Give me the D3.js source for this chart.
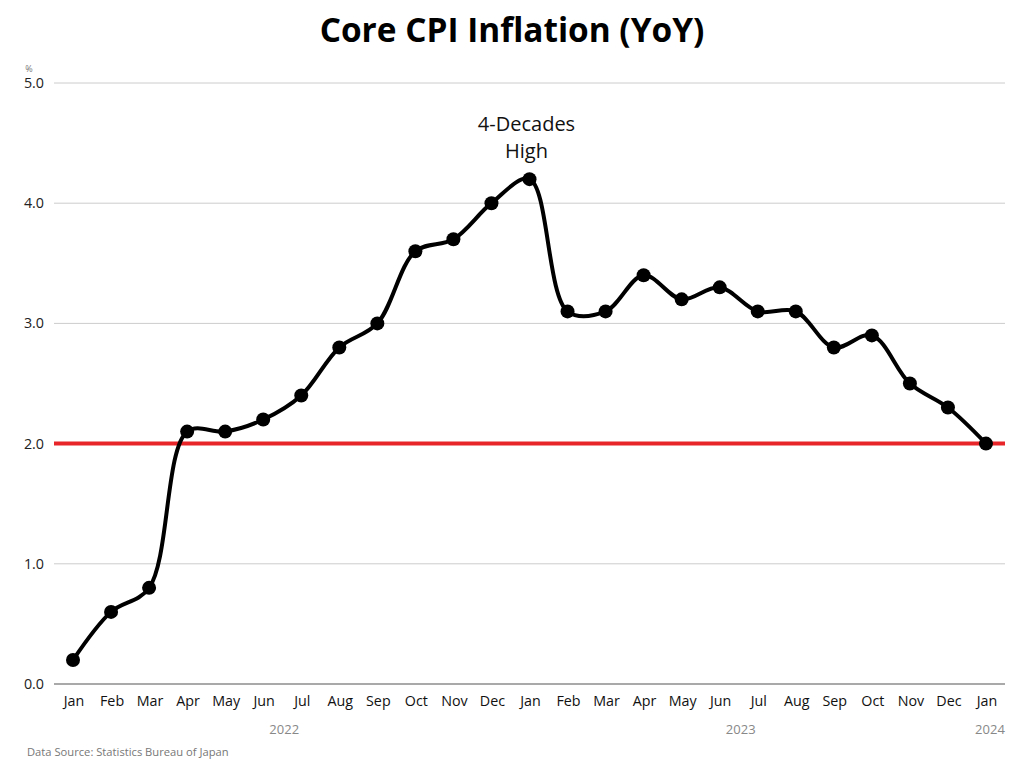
<!DOCTYPE html>
<html><head><meta charset="utf-8">
<script src="https://cdn.jsdelivr.net/npm/d3@7"></script>
<style>body{margin:0;background:#fff;font-family:"Open Sans",sans-serif;}</style>
</head><body>
<svg id="c" width="1024" height="768"></svg>
<script>
const months = ["Jan","Feb","Mar","Apr","May","Jun","Jul","Aug","Sep","Oct","Nov","Dec","Jan","Feb","Mar","Apr","May","Jun","Jul","Aug","Sep","Oct","Nov","Dec","Jan"];
const years = [{label:"2022", from:0, to:11},{label:"2023", from:12, to:23},{label:"2024", from:24, to:24}];
const cpi = [0.2,0.6,0.8,2.1,2.1,2.2,2.4,2.8,3.0,3.6,3.7,4.0,4.2,3.1,3.1,3.4,3.2,3.3,3.1,3.1,2.8,2.9,2.5,2.3,2.0];
const yTicks = [0,1,2,3,4,5];
const target = 2.0;
const title = "Core CPI Inflation (YoY)";
const annotation = ["4-Decades","High"];
const annotIndex = 12;

const svg = d3.select("#c");
const L = 54, R = 1005, T = 83, B = 684;
const idx = d3.range(months.length);
const x = d3.scaleBand().domain(idx).range([L, R]).padding(0);
const cx = i => x(i) + x.bandwidth()/2;
const y = d3.scaleLinear().domain([0,5]).range([B, T]);

svg.append("text").attr("x",512).attr("y",42).attr("text-anchor","middle")
  .attr("font-size",33.4).attr("font-weight",700).attr("fill","#000").text(title);

// grid
svg.append("g").selectAll("line").data(yTicks.filter(d=>d>0)).join("line")
  .attr("x1",L).attr("x2",R).attr("y1",d=>y(d)).attr("y2",d=>y(d))
  .attr("stroke","#cccccc").attr("stroke-width",1);
svg.append("line").attr("x1",L).attr("x2",R).attr("y1",y(0)).attr("y2",y(0))
  .attr("stroke","#555").attr("stroke-width",1.2);

// y labels
svg.append("g").selectAll("text").data(yTicks).join("text")
  .attr("x",44).attr("y",d=>y(d)+5).attr("text-anchor","end")
  .attr("font-size",14.3).attr("fill","#222").text(d=>d.toFixed(1));
svg.append("text").attr("x",29).attr("y",72).attr("text-anchor","middle")
  .attr("font-size",9).attr("fill","#777").text("%");

// x labels
svg.append("g").selectAll("text").data(idx).join("text")
  .attr("x",i=>cx(i)+1).attr("y",706).attr("text-anchor","middle")
  .attr("font-size",14.3).attr("fill","#111").text(i=>months[i]);
svg.append("g").selectAll("text").data(years).join("text")
  .attr("x",d=>(cx(d.from)+cx(d.to))/2 + (d.from===d.to?4:2)).attr("y",734).attr("text-anchor","middle")
  .attr("font-size",13).attr("fill","#888").text(d=>d.label);

// target line
svg.append("line").attr("x1",L).attr("x2",R).attr("y1",y(target)).attr("y2",y(target))
  .attr("stroke","#e8262a").attr("stroke-width",4);

// line
const line = d3.line().x((d,i)=>cx(i)).y(d=>y(d)).curve(d3.curveCatmullRom.alpha(0.5));
svg.append("path").datum(cpi).attr("d",line).attr("fill","none")
  .attr("stroke","#000").attr("stroke-width",4).attr("stroke-linejoin","round");
svg.append("g").selectAll("circle").data(cpi).join("circle")
  .attr("cx",(d,i)=>cx(i)).attr("cy",d=>y(d)).attr("r",7).attr("fill","#000");

// annotation
const at = svg.append("text").attr("text-anchor","middle").attr("font-size",20).attr("fill","#111");
annotation.forEach((t,k)=>at.append("tspan").attr("x",cx(annotIndex)-3).attr("y",131+k*27).text(t));

svg.append("text").attr("x",27).attr("y",756).attr("font-size",11.2).attr("fill","#777")
  .text("Data Source: Statistics Bureau of Japan");
</script>
</body></html>
